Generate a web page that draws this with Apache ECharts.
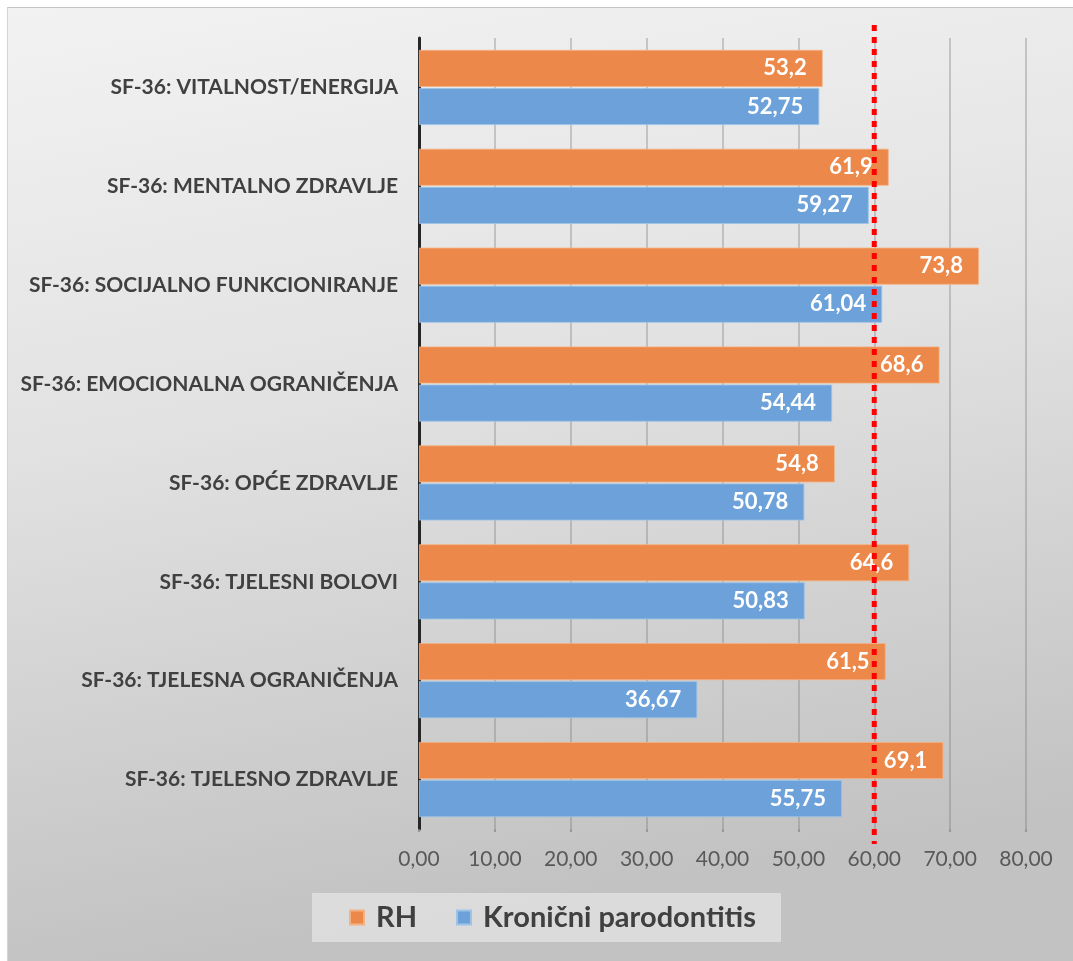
<!DOCTYPE html>
<html>
<head>
<meta charset="utf-8">
<script src="https://cdn.jsdelivr.net/npm/echarts@6/dist/echarts.min.js"></script>
<style>
html,body{margin:0;padding:0;background:#ffffff;}
#chart{position:absolute;left:7px;top:7px;width:1066px;height:954px;border-top:1px solid #c4c4c4;border-left:1px solid #d4d4d4;box-sizing:border-box;}
</style>
</head>
<body>
<div id="chart"></div>
<script>
const categories = [
  'SF-36: VITALNOST/ENERGIJA',
  'SF-36: MENTALNO ZDRAVLJE',
  'SF-36: SOCIJALNO FUNKCIONIRANJE',
  'SF-36: EMOCIONALNA OGRANIČENJA',
  'SF-36: OPĆE ZDRAVLJE',
  'SF-36: TJELESNI BOLOVI',
  'SF-36: TJELESNA OGRANIČENJA',
  'SF-36: TJELESNO ZDRAVLJE'
];
const rhValues = [53.2, 61.9, 73.8, 68.6, 54.8, 64.6, 61.5, 69.1];
const kpValues = [52.75, 59.27, 61.04, 54.44, 50.78, 50.83, 36.67, 55.75];
const seriesNames = ['RH', 'Kronični parodontitis'];
const referenceValue = 60;
const axisMin = 0, axisMax = 80, axisInterval = 10;

const font = 'Lato, "Open Sans", sans-serif';
const chart = echarts.init(document.getElementById('chart'), null, {renderer: 'canvas'});

const labelStyle = (decimals) => ({
  show: true,
  position: 'insideRight',
  distance: 16,
  color: '#ffffff',
  fontFamily: font,
  fontWeight: 'bold',
  fontSize: 22,
  formatter: p => p.value.toFixed(decimals).replace('.', ',')
});

chart.setOption({
  animation: false,
  backgroundColor: {
    type: 'linear', x: 0, y: 0, x2: 0.15, y2: 1,
    colorStops: [
      {offset: 0, color: '#f2f2f2'},
      {offset: 0.45, color: '#e2e2e2'},
      {offset: 1, color: '#c2c2c2'}
    ]
  },
  grid: {left: 411, right: 47, top: 30, bottom: 132, containLabel: false},
  legend: {
    data: seriesNames,
    left: 304, top: 885,
    padding: [10, 25, 10, 37],
    backgroundColor: 'rgba(240,240,240,0.55)',
    itemWidth: 14, itemHeight: 14,
    itemGap: 39,
    icon: 'rect',
    textStyle: {fontFamily: font, fontWeight: 'bold', fontSize: 29, color: '#404040', padding: [0, 0, 0, 7]}
  },
  xAxis: {
    type: 'value',
    min: axisMin, max: axisMax, interval: axisInterval,
    axisLine: {show: false},
    axisTick: {show: true, length: 3, lineStyle: {color: '#8a8a8a', width: 1.5}},
    splitLine: {show: true, lineStyle: {color: 'rgba(120,120,120,0.45)', width: 1.5}},
    axisLabel: {
      margin: 20,
      fontFamily: font, fontSize: 21, color: '#595959',
      formatter: v => v.toFixed(2).replace('.', ',')
    }
  },
  yAxis: {
    type: 'category',
    data: categories,
    inverse: true,
    axisLine: {show: true, lineStyle: {color: '#262626', width: 3}},
    axisTick: {show: false},
    axisLabel: {margin: 21, fontFamily: font, fontWeight: 'bold', fontSize: 21, color: '#404040'}
  },
  series: [
    {
      name: seriesNames[0], type: 'bar', data: rhValues,
      barWidth: 37, barGap: '3%',
      itemStyle: {color: '#EC8849', borderColor: '#f4b183', borderWidth: 0.8},
      label: labelStyle(1)
    },
    {
      name: seriesNames[1], type: 'bar', data: kpValues,
      barWidth: 37,
      itemStyle: {color: '#6CA2D9', borderColor: '#9dc3e6', borderWidth: 0.8},
      label: labelStyle(2)
    }
  ]
});

const xRef = chart.convertToPixel({xAxisIndex: 0}, referenceValue);
chart.setOption({
  graphic: [{
    type: 'line', z: 100,
    shape: {x1: xRef, y1: 17, x2: xRef, y2: 836},
    style: {stroke: '#ff0000', lineWidth: 5, lineDash: [6, 6]}
  }]
});
</script>
</body>
</html>
